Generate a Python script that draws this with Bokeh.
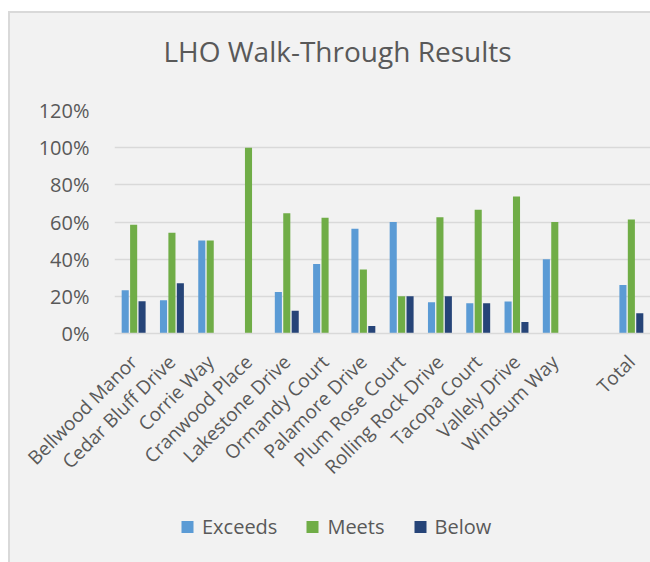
from bokeh.plotting import figure
from bokeh.layouts import column
from bokeh.models import (FactorRange, Range1d, NumeralTickFormatter, Legend,
                          LegendItem, ColumnDataSource, FixedTicker, Label)
from bokeh.transform import dodge
from bokeh.embed import file_html
from bokeh.resources import INLINE
import math

streets = ["Bellwood Manor", "Cedar Bluff Drive", "Corrie Way", "Cranwood Place",
           "Lakestone Drive", "Ormandy Court", "Palamore Drive", "Plum Rose Court",
           "Rolling Rock Drive", "Tacopa Court", "Vallely Drive", "Windsum Way",
           " ", "Total"]
exceeds = [0.233, 0.179, 0.50, 0.0, 0.223, 0.374, 0.564, 0.60, 0.168, 0.163, 0.172, 0.40, 0.0, 0.261]
meets = [0.585, 0.542, 0.50, 1.0, 0.647, 0.623, 0.345, 0.20, 0.626, 0.666, 0.737, 0.60, 0.0, 0.614]
below = [0.173, 0.270, 0.0, 0.0, 0.123, 0.0, 0.041, 0.20, 0.20, 0.163, 0.062, 0.0, 0.0, 0.109]
series_names = ["Exceeds", "Meets", "Below"]
series_colors = ["#5b9bd5", "#70ad47", "#264478"]
y_ticks = [0, 0.2, 0.4, 0.6, 0.8, 1.0, 1.2]
title_text = "LHO Walk-Through Results"

FONT = "Open Sans"
TXT = "#595959"
BG = "#f2f2f2"
GRID = "#d9d9d9"
W = 640
LEFT = 104
FW = W - LEFT


def strip(height):
    f = figure(width=W, height=height, title=None,
               x_range=Range1d(0, FW), y_range=Range1d(0, height),
               x_axis_location=None, y_axis_location=None,
               min_border_left=LEFT, min_border_right=0,
               min_border_top=0, min_border_bottom=0,
               background_fill_color=BG, border_fill_color=BG,
               outline_line_color=None, toolbar_location=None,
               output_backend="svg")
    f.grid.visible = False
    return f


# --- title strip (page y 13..95) ---
ft = strip(82)
ft.add_layout(Label(x=223, y=45, text=title_text, text_align="center",
                    text_baseline="alphabetic", text_font=FONT,
                    text_font_size="28px", text_color=TXT))

# --- chart (page y 95..500) ---
src = ColumnDataSource(dict(street=streets, exceeds=exceeds, meets=meets, below=below))

p = figure(width=W, height=405, title=None,
           x_range=FactorRange(*streets, range_padding=0),
           y_range=Range1d(0, 1.2),
           min_border_left=LEFT, min_border_right=0,
           min_border_top=15, min_border_bottom=167,
           background_fill_color=BG, border_fill_color=BG,
           outline_line_color=None, toolbar_location=None,
           output_backend="svg")

w = 0.185
off = 0.22
for key, dx, col in zip(["exceeds", "meets", "below"], [-off, 0, off], series_colors):
    p.vbar(x=dodge("street", dx, range=p.x_range), top=key, width=w,
           source=src, fill_color=col, line_color=None)

p.yaxis.ticker = FixedTicker(ticks=y_ticks)
p.yaxis.formatter = NumeralTickFormatter(format="0%")
p.yaxis.axis_line_color = None
p.yaxis.major_tick_line_color = None
p.yaxis.minor_tick_line_color = None
p.yaxis.major_label_text_font = FONT
p.yaxis.major_label_text_font_size = "20px"
p.yaxis.major_label_text_color = TXT
p.yaxis.major_label_standoff = 19

p.xaxis.axis_line_color = GRID
p.xaxis.axis_line_width = 1.5
p.xaxis.major_tick_line_color = None
p.xaxis.minor_tick_line_color = None
p.xaxis.major_label_orientation = math.pi / 4
p.xaxis.major_label_text_font = FONT
p.xaxis.major_label_text_font_size = "19px"
p.xaxis.major_label_text_color = TXT
p.xaxis.major_label_standoff = 19

p.xgrid.grid_line_color = None
p.ygrid.grid_line_color = GRID
p.ygrid.grid_line_width = 1.5

# --- legend strip (page y 500..562) ---
fl = strip(62)
items = []
for name, col in zip(series_names, series_colors):
    r = fl.scatter(x=[float("nan")], y=[float("nan")], marker="square",
                   fill_color=col, line_color=None)
    items.append(LegendItem(label=name, renderers=[r]))
legend = Legend(items=items, location=(58, 18), orientation="horizontal",
                background_fill_alpha=0, border_line_color=None,
                padding=0, margin=0, spacing=20, label_standoff=0,
                glyph_width=30, glyph_height=35,
                label_text_font=FONT, label_text_font_size="20px",
                label_text_color=TXT)
fl.add_layout(legend)

layout = column(ft, p, fl, spacing=0)
layout.styles = {"border-top": "2px solid #d9d9d9", "border-left": "2px solid #d9d9d9",
                 "margin-top": "11px", "margin-left": "8px", "background-color": BG}

open("out.html", "w").write(file_html(layout, INLINE))
